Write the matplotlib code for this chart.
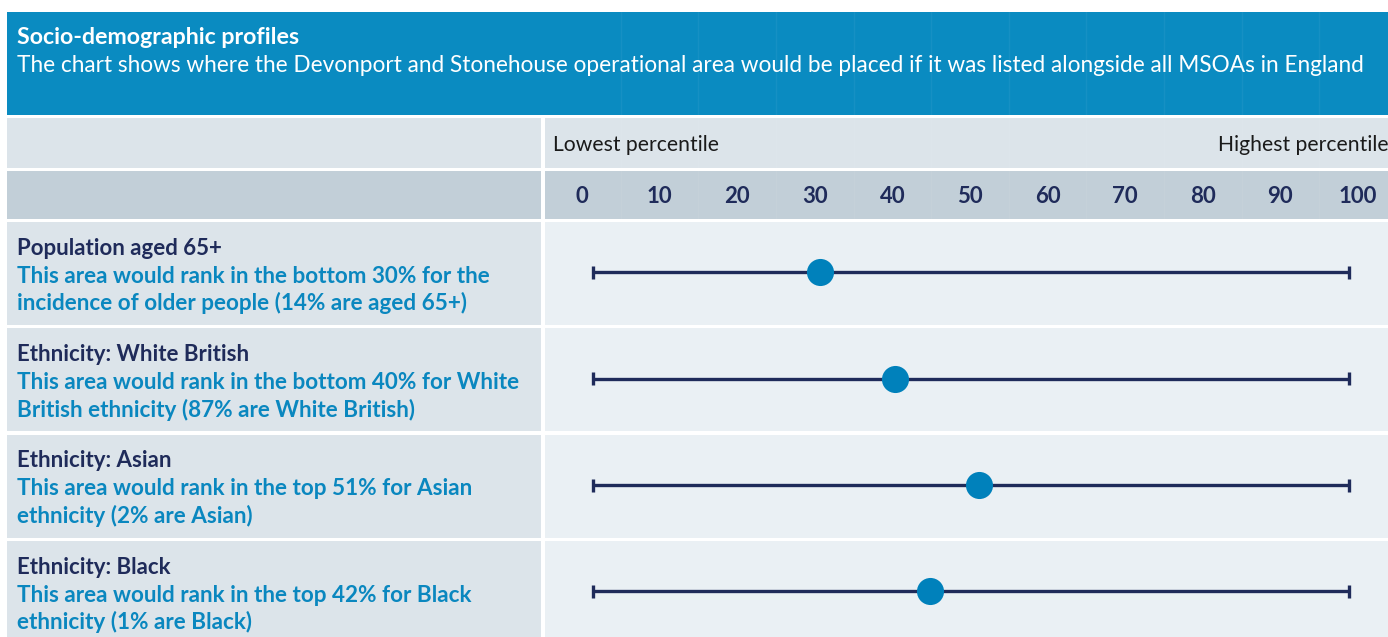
import matplotlib.pyplot as plt
from matplotlib.patches import Rectangle

# data
categories = ["Population aged 65+", "Ethnicity: White British",
              "Ethnicity: Asian", "Ethnicity: Black"]
descriptions = [
    ["This area would rank in the bottom 30% for the",
     "incidence of older people (14% are aged 65+)"],
    ["This area would rank in the bottom 40% for White",
     "British ethnicity (87% are White British)"],
    ["This area would rank in the top 51% for Asian",
     "ethnicity (2% are Asian)"],
    ["This area would rank in the top 42% for Black",
     "ethnicity (1% are Black)"],
]
percentiles = [30, 40, 51, 44.6]
range_lo = [0, 0, 0, 0]
range_hi = [100, 100, 100, 100]
tick_values = list(range(0, 101, 10))

title = "Socio-demographic profiles"
subtitle = ("The chart shows where the Devonport and Stonehouse operational area "
            "would be placed if it was listed alongside all MSOAs in England")

# colours
HEADER_BLUE = "#0a8bc1"
NAVY = "#1f2b5a"
TEXT_BLUE = "#0a87bf"
DOT_BLUE = "#0081bb"
LIGHT = "#dce4ea"
TICKROW = "#c2cfd8"
CELL = "#eaf0f4"

plt.rcParams['font.family'] = ['Lato', 'DejaVu Sans']

W, H = 1388, 637
fig = plt.figure(figsize=(W / 100, H / 100), dpi=100)


def px_axes(x0, y0, x1, y1):
    return fig.add_axes([x0 / W, 1 - y1 / H, (x1 - x0) / W, (y1 - y0) / H])


# background layout in pixel coordinates
bg = fig.add_axes([0, 0, 1, 1])
bg.set_xlim(0, W)
bg.set_ylim(H, 0)
bg.axis("off")

bg.add_patch(Rectangle((7, 12), W - 7, 103, color=HEADER_BLUE, lw=0))
bg.add_patch(Rectangle((7, 118), 534, 50, color=LIGHT, lw=0))
bg.add_patch(Rectangle((545, 118), W - 545, 50, color=LIGHT, lw=0))
bg.add_patch(Rectangle((7, 171), 534, 48, color=TICKROW, lw=0))
bg.add_patch(Rectangle((545, 171), W - 545, 48, color=TICKROW, lw=0))

bg.text(17, 38, title, color="white", fontsize=16.7, fontweight="bold",
        va="center", ha="left")
bg.text(17, 65, subtitle, color="white", fontsize=16.3, va="center", ha="left")
bg.text(553, 145, "Lowest percentile", color="#1a1a1a", fontsize=15.2,
        va="center", ha="left")
bg.text(W + 1, 145, "Highest percentile", color="#1a1a1a", fontsize=15.2,
        va="center", ha="right")

# header tick labels (table columns: 0 centred at 582px, 100 at 1358px)
head = px_axes(545, 0, W, 219)
head.set_xlim((545 - 582) / 7.76, (W - 582) / 7.76)
head.set_ylim(219, 0)
head.axis("off")
head.vlines([v + 5 for v in tick_values[:-1]], 9, 219, color="#ffffff",
            alpha=0.05, lw=1, zorder=0)
for v in tick_values:
    head.text(v, 197, str(v), color=NAVY, fontsize=16, fontweight="bold",
              ha="center", va="center")

# rows
pitch = 106.33
center0 = 272.5
top_y, bot_y = 222, H
ylim_top = -(center0 - top_y) / pitch
ylim_bot = (bot_y - center0) / pitch
cell_h = 103 / pitch

lab = px_axes(7, top_y, 541, bot_y)
lab.set_xlim(0, 534)
lab.set_ylim(ylim_bot, ylim_top)
lab.axis("off")

ax = px_axes(545, top_y, W, bot_y)
ax.set_xlim((545 - 593) / 7.56, (W - 593) / 7.56)
ax.set_ylim(ylim_bot, ylim_top)
ax.axis("off")

for i, cat in enumerate(categories):
    lab.axhspan(i + ylim_top, i + ylim_top + cell_h, color=LIGHT, lw=0)
    ax.axhspan(i + ylim_top, i + ylim_top + cell_h, color=CELL, lw=0)
    lab.text(10, i - 0.23, cat, color=NAVY, fontsize=16, fontweight="bold",
             va="center", ha="left")
    for k, line in enumerate(descriptions[i]):
        lab.text(10, i + 0.035 + k * 0.255, line, color=TEXT_BLUE, fontsize=16.2,
                 fontweight="bold", va="center", ha="left")

rows = list(range(len(categories)))
ax.hlines(rows, range_lo, range_hi, color=NAVY, lw=2.4, zorder=2)
ax.vlines(range_lo, [i - 0.06 for i in rows], [i + 0.06 for i in rows],
          color=NAVY, lw=2.4, zorder=2)
ax.vlines(range_hi, [i - 0.06 for i in rows], [i + 0.06 for i in rows],
          color=NAVY, lw=2.4, zorder=2)
ax.plot(percentiles, rows, "o", color=DOT_BLUE,
        markersize=19.5, markeredgewidth=0, zorder=3)

fig.savefig("out.png", dpi=100)
